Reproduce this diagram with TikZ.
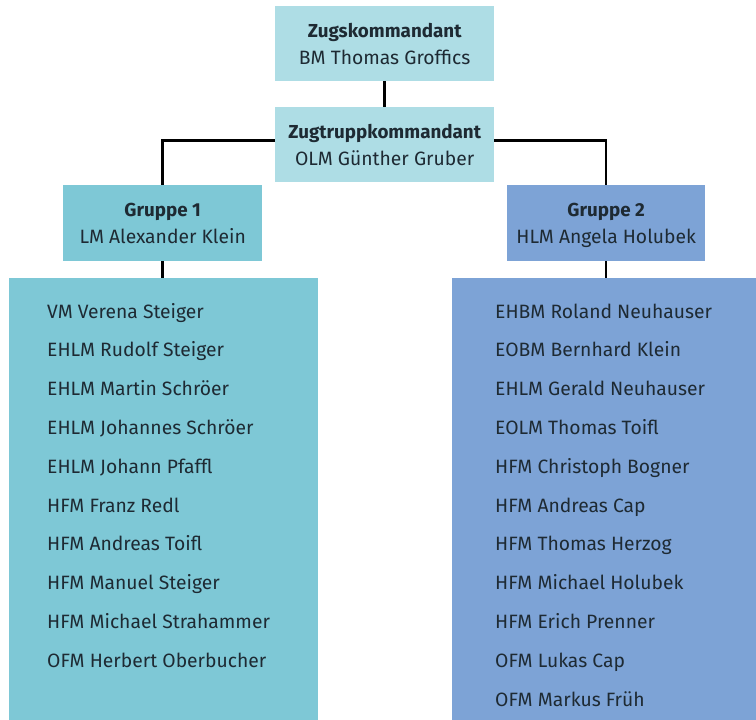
\documentclass[tikz,border=0pt]{standalone}
\usepackage{fontspec}
\setmainfont{Fira Sans}
\definecolor{toplight}{HTML}{AEDDE5}
\definecolor{grpone}{HTML}{7EC8D6}
\definecolor{grptwo}{HTML}{7DA3D6}
\definecolor{inktext}{HTML}{1E2A33}
\newcommand{\hdtext}[1]{{\fontsize{18.8}{26}\selectfont\bfseries #1}}
\begin{document}
\begin{tikzpicture}[x=1pt,y=-1pt,
  box/.style={rectangle, inner sep=0pt, anchor=north west, align=center,
    text=inktext, font=\fontsize{19.3}{26.5}\selectfont},
  member/.style={anchor=base west, inner sep=0pt, text=inktext, font=\fontsize{19.3}{22}\selectfont},
  conn/.style={line width=2.5pt, black}]
\useasboundingbox (0,0) rectangle (756,720);
\node[box, fill=toplight, minimum width=219pt, minimum height=75pt] (zk) at (275,6)
  {\hdtext{Zugskommandant}\\\smash{BM Thomas Groffics}};
\node[box, fill=toplight, minimum width=219pt, minimum height=75pt] (zt) at (275,107)
  {\hdtext{Zugtruppkommandant}\\\smash{OLM Günther Gruber}};
\node[box, fill=grpone, minimum width=199pt, minimum height=76pt] (g1) at (63,185)
  {\hdtext{Gruppe 1}\\\smash{LM Alexander Klein}};
\node[box, fill=grptwo, minimum width=198pt, minimum height=76pt] (g2) at (507,185)
  {\hdtext{Gruppe 2}\\\smash{HLM Angela Holubek}};
\node[box, fill=grpone, minimum width=309pt, minimum height=442pt] (l1) at (9,278) {};
\node[box, fill=grptwo, minimum width=304pt, minimum height=442pt] (l2) at (452,278) {};
\draw[conn] (zk.south) -- (zt.north);
\draw[conn] ([yshift=4pt]zt.west) -| (g1.north);
\draw[conn] ([yshift=4pt]zt.east) -| (g2.north);
\draw[conn] (g1.south) -- (g1.south |- l1.north);
\draw[conn] (g2.south) -- (g2.south |- l2.north);
\foreach \t [count=\i] in {VM Verena Steiger, EHLM Rudolf Steiger, EHLM Martin Schröer,
  EHLM Johannes Schröer, EHLM Johann Pfaffl, HFM Franz Redl, HFM Andreas Toifl,
  HFM Manuel Steiger, HFM Michael Strahammer, OFM Herbert Oberbucher}
  \node[member] (a\i) at (47,{318+38.8*(\i-1)}) {\t};
\foreach \t [count=\i] in {EHBM Roland Neuhauser, EOBM Bernhard Klein, EHLM Gerald Neuhauser,
  EOLM Thomas Toifl, HFM Christoph Bogner, HFM Andreas Cap, HFM Thomas Herzog,
  HFM Michael Holubek, HFM Erich Prenner, OFM Lukas Cap, OFM Markus Früh}
  \node[member] (b\i) at (495,{318+38.8*(\i-1)}) {\t};
\end{tikzpicture}
\end{document}
